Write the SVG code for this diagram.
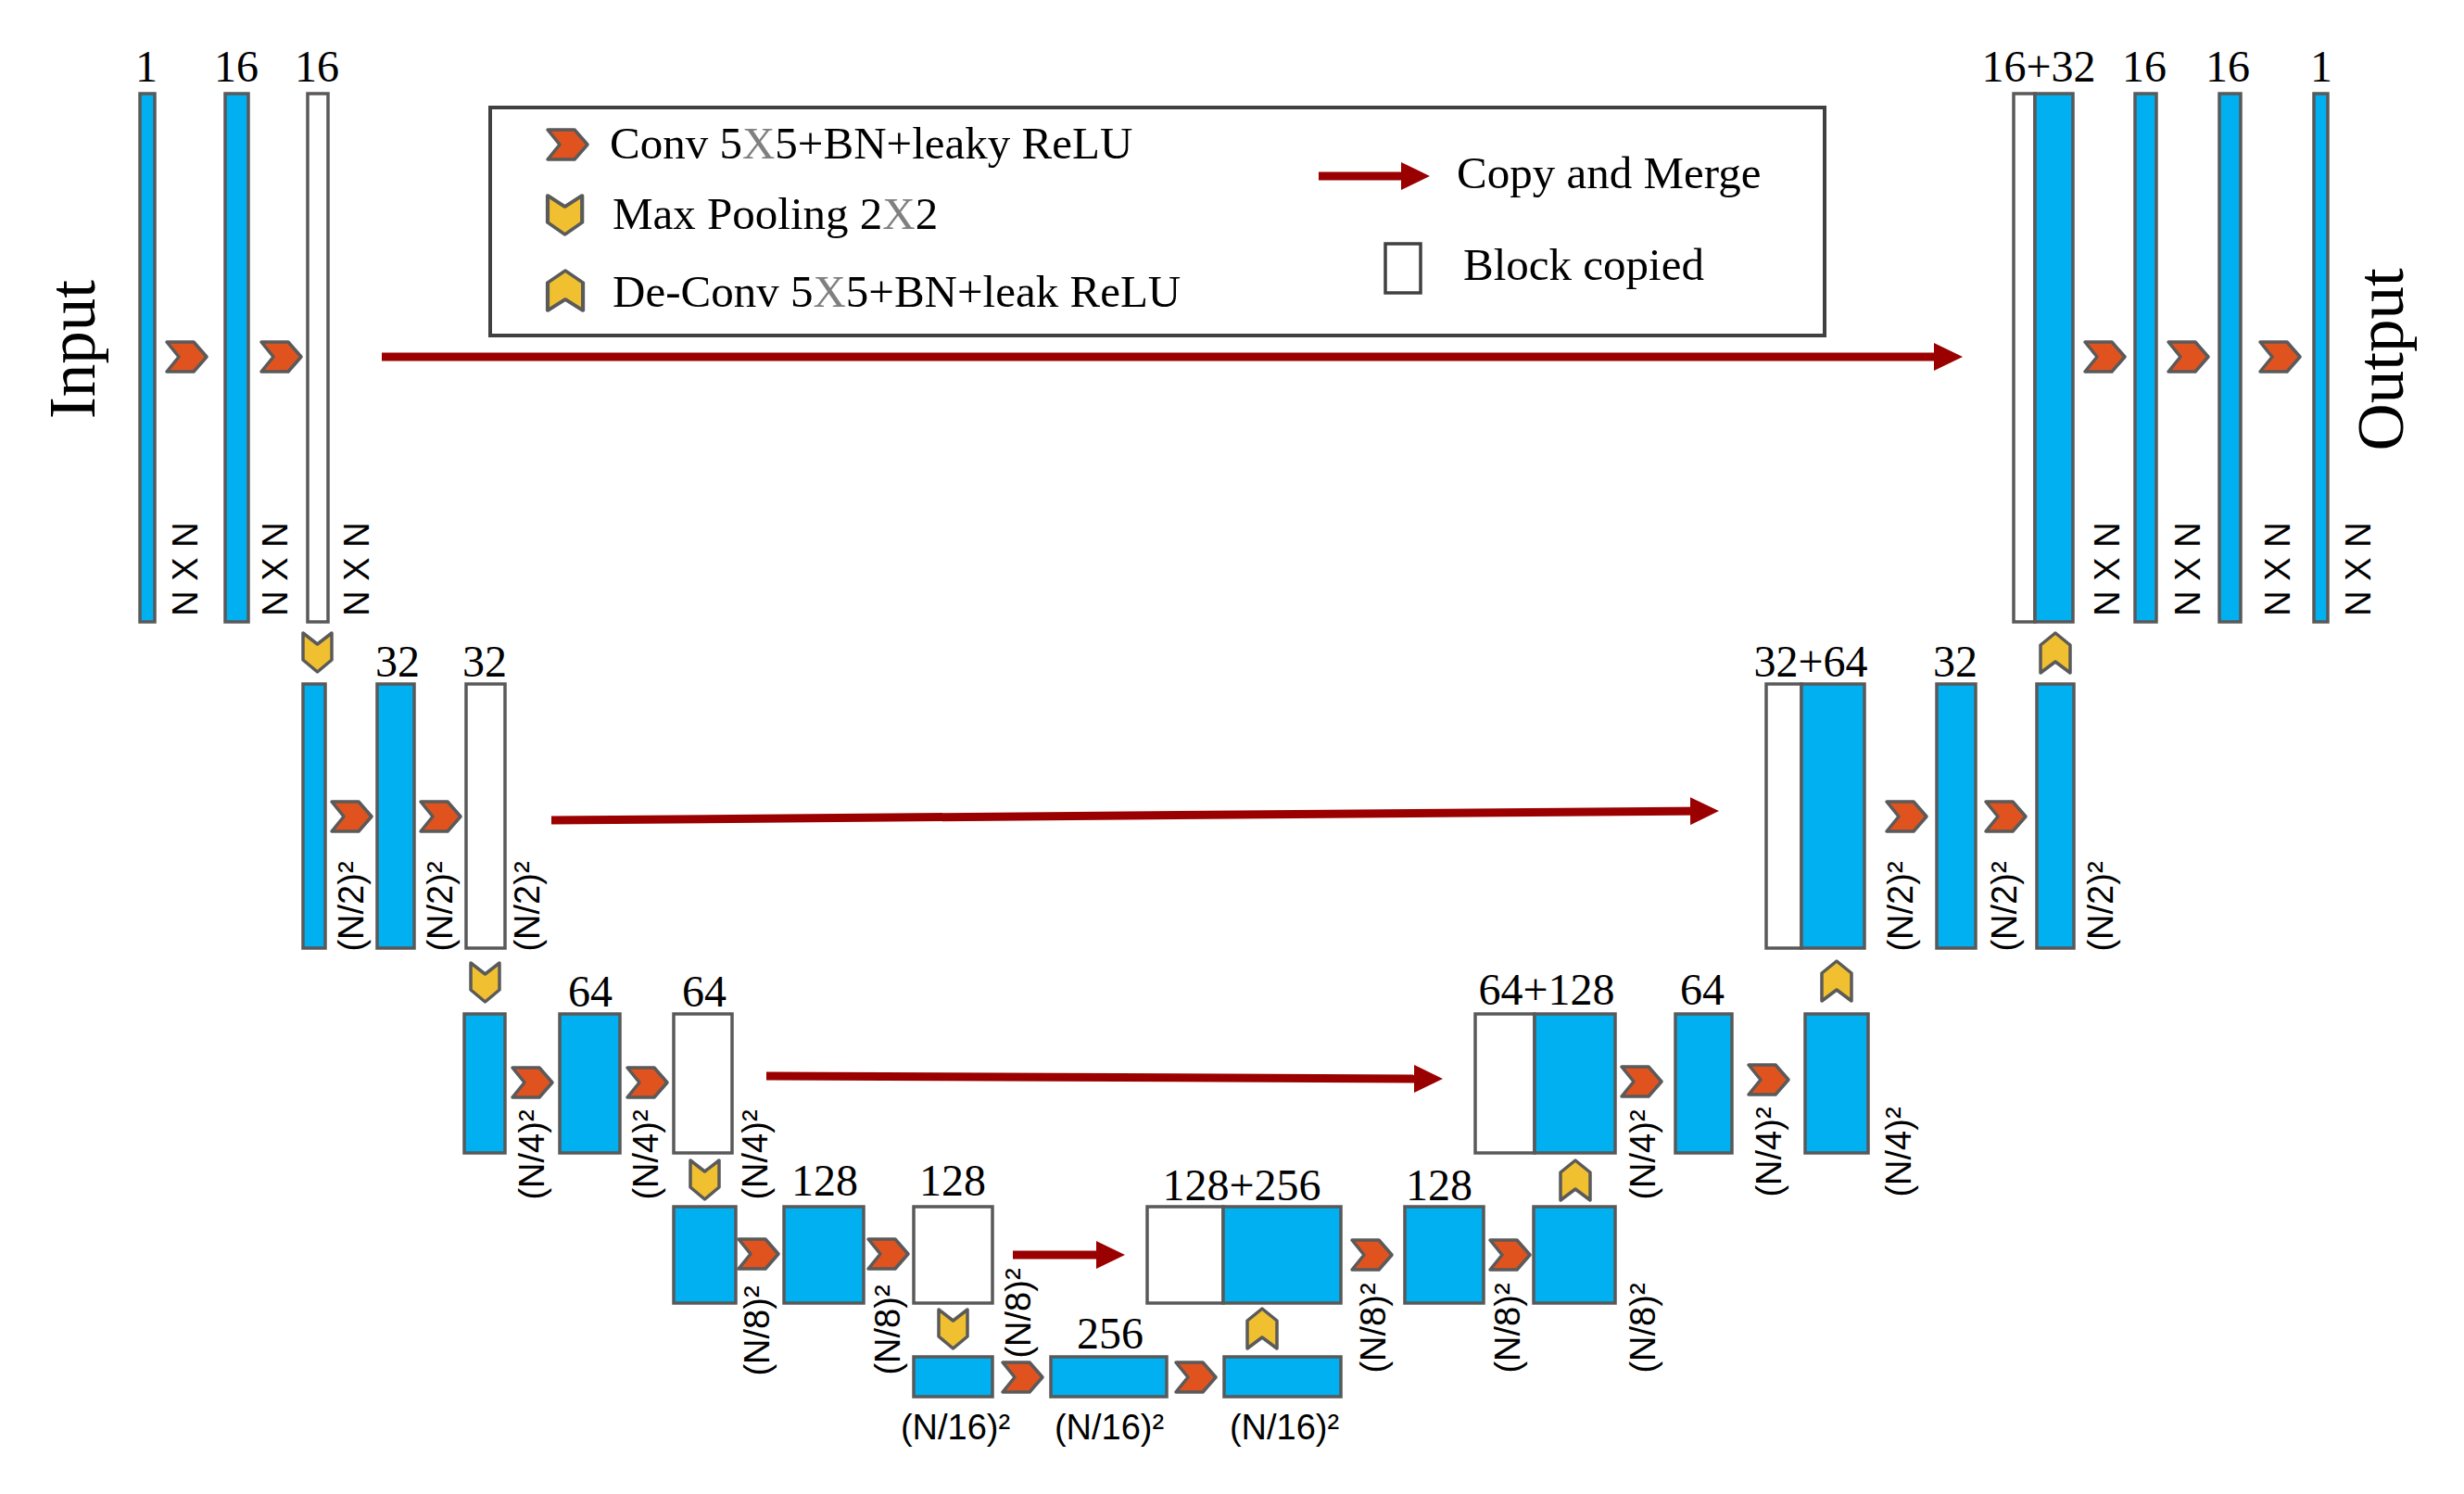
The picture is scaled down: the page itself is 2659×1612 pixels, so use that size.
<svg xmlns="http://www.w3.org/2000/svg" xmlns:xlink="http://www.w3.org/1999/xlink" width="2659" height="1612" viewBox="0 0 2659 1612">
<style>
.b{fill:#00B0F0;stroke:#595959;stroke-width:3.5}
.w{fill:#ffffff;stroke:#595959;stroke-width:3.5}
.num{font-family:"Liberation Serif",serif;font-size:48px;text-anchor:middle;fill:#000}
.dim{font-family:"Liberation Sans",sans-serif;font-size:38px;text-anchor:middle;fill:#000}
.leg{font-family:"Liberation Serif",serif;font-size:49px;fill:#000}
.big{font-family:"Liberation Serif",serif;font-size:71px;text-anchor:middle;fill:#000}
.gx{fill:#808080}
.conv{fill:#E0531F;stroke:#5A5A5A;stroke-width:3.5;stroke-linejoin:round}
.pool{fill:#F0C030;stroke:#5A5A5A;stroke-width:3.5;stroke-linejoin:round}
.cm{stroke:#9A0000;stroke-width:9;fill:none;marker-end:url(#ah)}
</style>
<defs>
<marker id="ah" markerUnits="userSpaceOnUse" markerWidth="32" markerHeight="30" refX="19" refY="15" orient="auto" viewBox="0 0 32 30">
<path d="M0,0 L31,15 L0,30 Z" fill="#9A0000"/>
</marker>
<path id="cv" class="conv" d="M0,0 H29 L43,16 L29,32 H0 L13,16 Z"/>
<path id="pd" class="pool" d="M0,0 L15.5,12 L31,0 V29 L15.5,42 L0,29 Z"/>
<path id="pu" class="pool" d="M0,43 L16,31 L32,43 V13 L16,0 L0,13 Z"/>
</defs>
<rect width="2659" height="1612" fill="#ffffff"/>

<g id="legend">
<rect x="529" y="116" width="1440" height="246" fill="#ffffff" stroke="#404040" stroke-width="4"/>
<use xlink:href="#cv" x="591" y="140"/>
<text class="leg" x="658" y="171">Conv 5<tspan class="gx">X</tspan>5+BN+leaky ReLU</text>
<use xlink:href="#pd" transform="translate(591,211) scale(1.2,1)"/>
<text class="leg" x="661" y="247">Max Pooling 2<tspan class="gx">X</tspan>2</text>
<use xlink:href="#pu" transform="translate(591,292) scale(1.19,1)"/>
<text class="leg" x="661" y="331">De-Conv 5<tspan class="gx">X</tspan>5+BN+leak ReLU</text>
<path class="cm" d="M1423,190 H1531"/>
<text class="leg" x="1572" y="203">Copy and Merge</text>
<rect x="1495" y="263" width="38" height="53" fill="#ffffff" stroke="#404040" stroke-width="3.5"/>
<text class="leg" x="1579" y="302">Block copied</text>
</g>

<g id="input-label"><text class="big" transform="translate(102,377) rotate(-90)">Input</text></g>
<g id="output-label"><text class="big" transform="translate(2593,388) rotate(-90)">Output</text></g>

<!-- Level 1 encoder -->
<g id="n-a1"><rect class="b" x="151" y="101" width="16" height="570"/><text class="num" x="158" y="88">1</text><text class="dim" transform="translate(213,614) rotate(-90)">N X N</text></g>
<g id="n-a2"><rect class="b" x="243" y="101" width="25" height="570"/><text class="num" x="255" y="88">16</text><text class="dim" transform="translate(310,614) rotate(-90)">N X N</text></g>
<g id="n-a3"><rect class="w" x="332" y="101" width="22" height="570"/><text class="num" x="342" y="88">16</text><text class="dim" transform="translate(398,614) rotate(-90)">N X N</text></g>
<!-- Level 1 decoder -->
<g id="n-a4"><rect class="w" x="2173" y="101" width="23" height="570"/><rect class="b" x="2196" y="101" width="41" height="570"/><text class="num" x="2200" y="88">16+32</text><text class="dim" transform="translate(2287,614) rotate(-90)">N X N</text></g>
<g id="n-a5"><rect class="b" x="2304" y="101" width="23" height="570"/><text class="num" x="2314" y="88">16</text><text class="dim" transform="translate(2374,614) rotate(-90)">N X N</text></g>
<g id="n-a6"><rect class="b" x="2395" y="101" width="23" height="570"/><text class="num" x="2404" y="88">16</text><text class="dim" transform="translate(2471,614) rotate(-90)">N X N</text></g>
<g id="n-a7"><rect class="b" x="2497" y="101" width="15" height="570"/><text class="num" x="2505" y="88">1</text><text class="dim" transform="translate(2558,614) rotate(-90)">N X N</text></g>

<!-- Level 2 -->
<g id="n-b1"><rect class="b" x="327" y="738" width="24" height="285"/><text class="dim" transform="translate(392,978) rotate(-90)">(N/2)²</text></g>
<g id="n-b2"><rect class="b" x="407" y="738" width="40" height="285"/><text class="num" x="429" y="730">32</text><text class="dim" transform="translate(488,978) rotate(-90)">(N/2)²</text></g>
<g id="n-b3"><rect class="w" x="503" y="738" width="42" height="285"/><text class="num" x="523" y="730">32</text><text class="dim" transform="translate(582,978) rotate(-90)">(N/2)²</text></g>
<g id="n-b4"><rect class="w" x="1906" y="738" width="38" height="285"/><rect class="b" x="1944" y="738" width="68" height="285"/><text class="num" x="1954" y="730">32+64</text><text class="dim" transform="translate(2064,978) rotate(-90)">(N/2)²</text></g>
<g id="n-b5"><rect class="b" x="2090" y="738" width="42" height="285"/><text class="num" x="2110" y="730">32</text><text class="dim" transform="translate(2176,978) rotate(-90)">(N/2)²</text></g>
<g id="n-b6"><rect class="b" x="2198" y="738" width="40" height="285"/><text class="dim" transform="translate(2280,978) rotate(-90)">(N/2)²</text></g>

<!-- Level 3 -->
<g id="n-c1"><rect class="b" x="501" y="1094" width="44" height="150"/><text class="dim" transform="translate(587,1246) rotate(-90)">(N/4)²</text></g>
<g id="n-c2"><rect class="b" x="604" y="1094" width="65" height="150"/><text class="num" x="637" y="1086">64</text><text class="dim" transform="translate(710,1246) rotate(-90)">(N/4)²</text></g>
<g id="n-c3"><rect class="w" x="727" y="1094" width="63" height="150"/><text class="num" x="760" y="1086">64</text><text class="dim" transform="translate(828,1246) rotate(-90)">(N/4)²</text></g>
<g id="n-c4"><rect class="w" x="1592" y="1094" width="64" height="150"/><rect class="b" x="1656" y="1094" width="87" height="150"/><text class="num" x="1669" y="1084">64+128</text><text class="dim" transform="translate(1786,1246) rotate(-90)">(N/4)²</text></g>
<g id="n-c5"><rect class="b" x="1808" y="1094" width="61" height="150"/><text class="num" x="1837" y="1084">64</text><text class="dim" transform="translate(1922,1243) rotate(-90)">(N/4)²</text></g>
<g id="n-c6"><rect class="b" x="1948" y="1094" width="68" height="150"/><text class="dim" transform="translate(2062,1243) rotate(-90)">(N/4)²</text></g>

<!-- Level 4 -->
<g id="n-d1"><rect class="b" x="727" y="1302" width="67" height="104"/><text class="dim" transform="translate(830,1436) rotate(-90)">(N/8)²</text></g>
<g id="n-d2"><rect class="b" x="846" y="1302" width="86" height="104"/><text class="num" x="890" y="1290">128</text><text class="dim" transform="translate(971,1435) rotate(-90)">(N/8)²</text></g>
<g id="n-d3"><rect class="w" x="986" y="1302" width="85" height="104"/><text class="num" x="1028" y="1290">128</text><text class="dim" transform="translate(1112,1417) rotate(-90)">(N/8)²</text></g>
<g id="n-d4"><rect class="w" x="1238" y="1302" width="82" height="104"/><rect class="b" x="1320" y="1302" width="127" height="104"/><text class="num" x="1340" y="1295">128+256</text><text class="dim" transform="translate(1495,1433) rotate(-90)">(N/8)²</text></g>
<g id="n-d5"><rect class="b" x="1516" y="1302" width="85" height="104"/><text class="num" x="1553" y="1295">128</text><text class="dim" transform="translate(1640,1433) rotate(-90)">(N/8)²</text></g>
<g id="n-d6"><rect class="b" x="1655" y="1302" width="88" height="104"/><text class="dim" transform="translate(1786,1433) rotate(-90)">(N/8)²</text></g>

<!-- Level 5 -->
<g id="n-e1"><rect class="b" x="986" y="1464" width="85" height="43"/><text class="dim" x="1031" y="1553">(N/16)²</text></g>
<g id="n-e2"><rect class="b" x="1134" y="1464" width="125" height="43"/><text class="num" x="1198" y="1455">256</text><text class="dim" x="1197" y="1553">(N/16)²</text></g>
<g id="n-e3"><rect class="b" x="1321" y="1464" width="126" height="43"/><text class="dim" x="1386" y="1553">(N/16)²</text></g>

<!-- operation icons -->
<g id="ops">
<use xlink:href="#cv" x="180" y="369"/><use xlink:href="#cv" x="282" y="369"/>
<use xlink:href="#cv" x="2250" y="369"/><use xlink:href="#cv" x="2340" y="369"/><use xlink:href="#cv" x="2439" y="369"/>
<use xlink:href="#cv" x="358" y="865"/><use xlink:href="#cv" x="454" y="865"/>
<use xlink:href="#cv" x="2036" y="865"/><use xlink:href="#cv" x="2143" y="865"/>
<use xlink:href="#cv" x="553" y="1152"/><use xlink:href="#cv" x="677" y="1152"/>
<use xlink:href="#cv" x="1750" y="1151"/><use xlink:href="#cv" x="1887" y="1149"/>
<use xlink:href="#cv" x="797" y="1337"/><use xlink:href="#cv" x="937" y="1337"/>
<use xlink:href="#cv" x="1459" y="1338"/><use xlink:href="#cv" x="1608" y="1338"/>
<use xlink:href="#cv" x="1082" y="1470"/><use xlink:href="#cv" x="1269" y="1470"/>
<use xlink:href="#pd" x="327" y="683"/>
<use xlink:href="#pd" x="508" y="1039"/>
<use xlink:href="#pd" x="745" y="1252"/>
<use xlink:href="#pd" x="1013" y="1413"/>
<use xlink:href="#pu" x="1346" y="1412"/>
<use xlink:href="#pu" x="1684" y="1252"/>
<use xlink:href="#pu" x="1966" y="1037"/>
<use xlink:href="#pu" x="2202" y="683"/>
</g>

<g id="connectors">
<path class="cm" d="M412,385 H2106"/>
<path class="cm" d="M595,885 L1843,875"/>
<path class="cm" d="M827,1161 L1545,1164"/>
<path class="cm" d="M1093,1354 H1202"/>
</g>
</svg>
